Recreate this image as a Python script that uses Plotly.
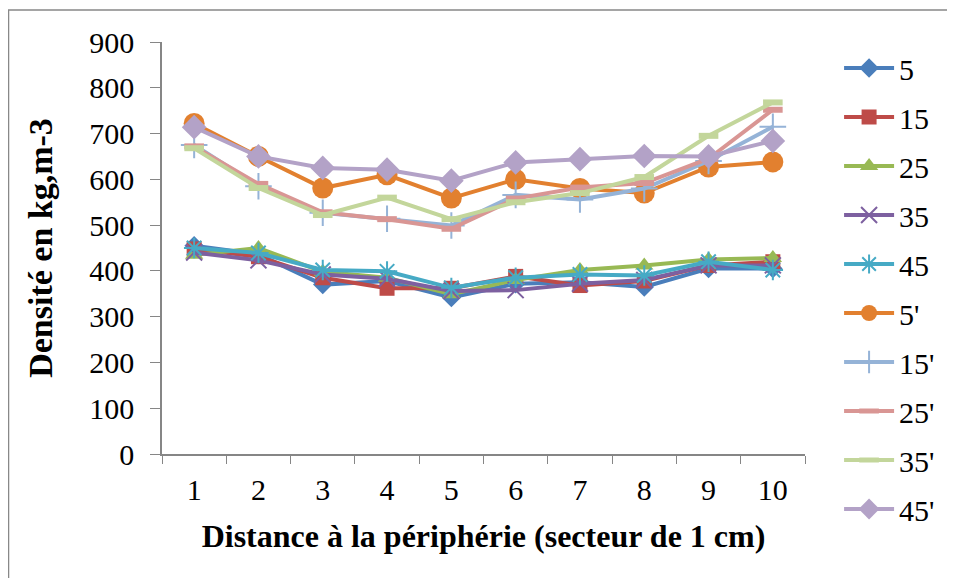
import plotly.graph_objects as go

# %% data
secteurs = ['1', '2', '3', '4', '5', '6', '7', '8', '9', '10']

d5 = [455, 436, 370, 378, 342, 372, 375, 365, 405, 405]
d15 = [448, 431, 385, 362, 362, 388, 368, 378, 412, 420]
d25 = [435, 450, 398, 385, 349, 380, 402, 412, 425, 428]
d35 = [440, 423, 392, 383, 356, 358, 372, 380, 412, 412]
d45 = [450, 439, 402, 399, 363, 385, 392, 390, 420, 402]
d5p = [722, 650, 581, 610, 559, 600, 580, 570, 627, 638]
d15p = [675, 585, 527, 514, 499, 566, 556, 580, 640, 715]
d25p = [672, 590, 528, 513, 492, 558, 582, 592, 645, 752]
d35p = [668, 581, 522, 560, 513, 550, 570, 605, 695, 768]
d45p = [714, 650, 625, 621, 597, 637, 644, 651, 650, 684]

names = ['5', '15', '25', '35', '45', "5'", "15'", "25'", "35'", "45'"]
series = [d5, d15, d25, d35, d45, d5p, d15p, d25p, d35p, d45p]
colors = ['#4A7EBB', '#BE4B48', '#98B954', '#7D60A0', '#46AAC5',
          '#E2802F', '#95B3D7', '#D99694', '#C3D69B', '#B3A2C7']
symbols = ['diamond', 'square', 'triangle-up', 'x-thin', 'asterisk',
           'circle', 'cross-thin', 'line-ew', 'line-ew', 'diamond']
sizes = [15, 15, 16, 16, 17, 21, 19, 14, 14, 19]

SERIF = 'Liberation Serif'

# %% figure
fig = go.Figure()
for name, vals, col, sym, sz in zip(names, series, colors, symbols, sizes):
    thin = sym in ('x-thin', 'asterisk', 'cross-thin')
    dash = sym == 'line-ew'
    fig.add_trace(go.Scatter(
        x=secteurs, y=vals, name=name, legendgroup=name,
        mode='lines+markers',
        line=dict(color=col, width=4),
        marker=dict(symbol=sym, size=sz, color=col,
                    line=dict(color=col, width=6 if dash else (2 if thin else 0)))
    ))

# page body adds 8px, so margins are shifted by that
fig.update_layout(
    width=955, height=578,
    margin=dict(l=154, r=158, t=34, b=132, autoexpand=False),
    paper_bgcolor='white', plot_bgcolor='white',
    font=dict(family=SERIF, size=30, color='black'),
    showlegend=True,
    legend=dict(x=1.053, y=1.0, yanchor='top', xanchor='left',
                font=dict(family=SERIF, size=30), tracegroupgap=7,
                traceorder='grouped', itemwidth=50, maxheight=560),
)
fig.update_xaxes(
    type='category', range=[-0.5, 9.5],
    showline=True, linecolor='#868686', linewidth=1.5,
    ticks='outside', tickson='boundaries', ticklen=8, tickcolor='#868686',
    tickfont=dict(family=SERIF, size=30), ticklabelstandoff=8,
    showgrid=False, zeroline=False,
    title=dict(text='<b>Distance à la périphérie (secteur de 1 cm)</b>',
               font=dict(family=SERIF, size=32), standoff=20),
)
fig.update_yaxes(
    range=[0, 900], dtick=100,
    showline=True, linecolor='#868686', linewidth=1.5,
    ticks='outside', ticklen=10, tickcolor='#868686',
    tickfont=dict(family=SERIF, size=30), ticklabelstandoff=10,
    showgrid=False, zeroline=False,
    title=dict(text='<b>Densité en kg,m-3</b>',
               font=dict(family=SERIF, size=34), standoff=26),
)

# border around the chart area (only top and left edges fall in the picture)
fig.add_shape(type='rect', xref='paper', yref='paper',
              x0=-0.2387, x1=1.3, y0=-0.35, y1=1.0777,
              line=dict(color='#888888', width=1.5))

fig.write_html('out.html')
